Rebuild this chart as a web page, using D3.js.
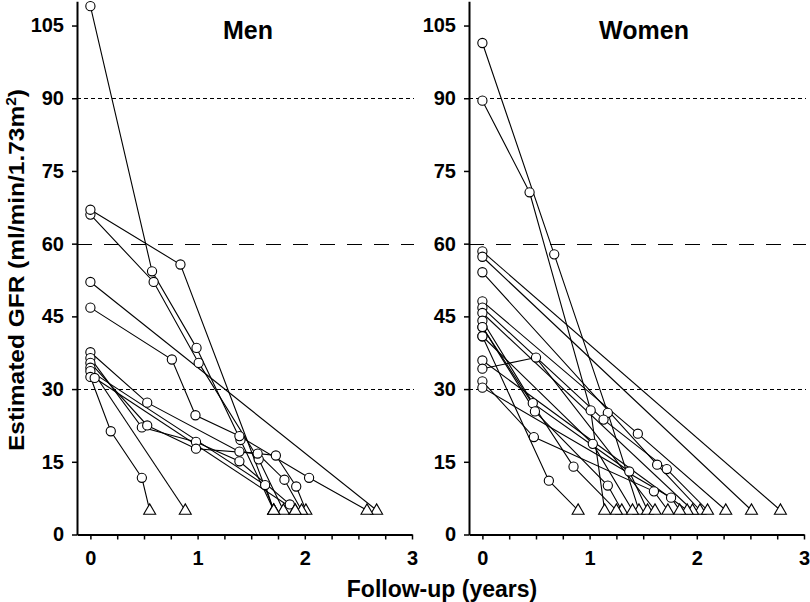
<!DOCTYPE html>
<html>

<head>
  <meta http-equiv="content-type" content="text/html; charset=utf-8">
  <title>Estimated GFR follow-up</title>
  <style>
    body { margin: 0; background: #fff; }
    svg#canvas { display: block; }
    text { font-family: "Liberation Sans", Arial, sans-serif; font-weight: bold; fill: #000; }
  </style>
</head>

<body>
  <svg id="canvas"></svg>

  <script src="https://d3js.org/d3.v7.min.js"></script>
  <script>

    // each subject: [years, eGFR] points; the last point is the end-point (triangle)
    const men = [
      [[0, 109], [0.575, 54.3], [0.99, 38.5], [1.40, 19.5], [1.71, 5]],
      [[0, 66], [0.59, 52.1], [1.01, 35.4], [1.57, 15.5], [1.80, 5]],
      [[0, 67], [0.84, 55.7], [1.71, 5]],
      [[0, 52.1], [2.67, 5]],
      [[0, 46.8], [0.76, 36.1], [0.98, 24.6], [1.39, 20.3], [2.04, 11.7], [2.58, 5]],
      [[0, 37.6], [0.53, 27.2], [1.39, 17.1], [1.73, 16.3], [1.92, 9.9], [2.01, 5]],
      [[0, 36.4], [0.48, 22.1], [0.985, 19.1], [1.39, 15.1], [1.86, 6.2], [1.91, 5]],
      [[0, 35.4], [0.53, 22.5], [0.985, 17.7], [1.56, 16.7], [1.81, 11.3], [1.97, 5]],
      [[0, 34.4], [0.885, 5]],
      [[0, 33.7], [1.63, 10.2], [1.71, 5]],
      [[0, 32.5], [0.19, 21.3], [0.48, 11.7], [0.553, 5]],
      [[0.04, 32.3], [1.91, 5]]
    ];

    const women = [
      [[0, 101.4], [0.67, 57.8], [1.17, 25.1], [1.46, 5]],
      [[0, 89.5], [0.44, 70.6], [1.01, 25.6], [1.14, 5]],
      [[0, 58.4], [2.78, 5]],
      [[0, 57.3], [2.51, 5]],
      [[0, 54.1], [1.63, 14.4], [2.03, 5]],
      [[0, 48.1], [1.45, 20.8], [2.27, 5]],
      [[0, 46.8], [1.13, 23.7], [1.72, 13.5], [2.10, 5]],
      [[0, 45.7], [1.96, 5]],
      [[0, 44.1], [0.47, 27.1], [1.37, 13.0], [1.54, 5]],
      [[0, 42.8], [0.49, 25.4], [1.17, 10.1], [1.30, 5]],
      [[0, 42.8], [0.85, 14.0], [1.25, 5]],
      [[0, 40.9], [0.62, 11.1], [0.893, 5]],
      [[0, 40.9], [1.03, 18.7], [1.40, 5]],
      [[0, 35.9], [1.91, 5]],
      [[0, 34.2], [0.50, 36.5], [1.61, 5]],
      [[0, 31.6], [0.48, 20.1], [1.60, 8.9], [1.73, 5]],
      [[0, 30.3], [1.76, 7.6], [1.84, 5]]
    ];

    const yTicks = [0, 15, 30, 45, 60, 75, 90, 105];
    const xTicks = [0, 1, 2, 3];
    const xMinorTicks = d3.range(0, 3.001, 0.25);
    const refLines = [{ "v": 90, "dash": "4,3" }, { "v": 60, "dash": "15,12" }, { "v": 30, "dash": "4,3" }];

    const svg = d3.select("svg#canvas").attr("width", 810).attr("height", 602);

    const y = d3.scaleLinear().domain([0, 110]).range([534.5, 1.3]);
    const tri = d3.symbol().type(d3.symbolTriangle).size(62);

    const panel = (subjects, title, left, right, titleX) => {
      const x = d3.scaleLinear().domain([-0.125, 3]).range([left, right]);
      const g = svg.append("g");

      refLines.forEach(r => {
        g.append("line")
          .attr("x1", left).attr("x2", right + 2)
          .attr("y1", Math.round(y(r.v)) + 0.5).attr("y2", Math.round(y(r.v)) + 0.5)
          .attr("stroke", "#000").attr("stroke-width", 1)
          .attr("stroke-dasharray", r.dash);
      });

      const line = d3.line().x(d => x(d[0])).y(d => y(d[1]));
      g.selectAll(".subj")
        .data(subjects)
        .enter().append("path")
        .attr("d", line)
        .attr("fill", "none")
        .attr("stroke", "#000")
        .attr("stroke-width", 1.1);

      subjects.forEach(s => {
        s.slice(0, -1).forEach(p => {
          g.append("circle")
            .attr("cx", x(p[0])).attr("cy", y(p[1])).attr("r", 4.6)
            .attr("fill", "#fff").attr("stroke", "#000").attr("stroke-width", 1.1);
        });
        const e = s[s.length - 1];
        g.append("path")
          .attr("d", tri)
          .attr("transform", "translate(" + x(e[0]) + "," + (y(e[1]) + 0.5) + ")")
          .attr("fill", "#fff").attr("stroke", "#000").attr("stroke-width", 1.1);
      });

      // axes
      const yAxis = g.append("g")
        .attr("transform", "translate(" + left + ",0)")
        .call(d3.axisLeft(y).tickValues(yTicks).tickSize(5).tickPadding(8).tickSizeOuter(0));
      const xAxis = g.append("g")
        .attr("transform", "translate(0," + y(0) + ")")
        .call(d3.axisBottom(x).tickValues(xMinorTicks).tickSize(5).tickPadding(11).tickSizeOuter(0)
          .tickFormat(d => xTicks.includes(d) ? d : ""));
      [yAxis, xAxis].forEach(a => {
        a.select(".domain").attr("stroke-width", 2);
        a.selectAll(".tick line").attr("stroke-width", 1.5);
        a.selectAll("text").style("font-size", "20px").style("font-weight", "bold")
          .style("font-family", "'Liberation Sans', Arial, sans-serif");
      });

      g.append("text")
        .attr("x", titleX).attr("y", 39)
        .attr("text-anchor", "middle")
        .style("font-size", "25px")
        .text(title);
    };

    panel(men, "Men", 77, 412, 248);
    panel(women, "Women", 469, 804, 644);

    const yLab = svg.append("text")
      .attr("transform", "translate(24,270) rotate(-90)")
      .attr("text-anchor", "middle")
      .attr("textLength", 362)
      .attr("lengthAdjust", "spacingAndGlyphs")
      .style("font-size", "22px")
      .text("Estimated GFR (ml/min/1.73m");
    yLab.append("tspan").attr("baseline-shift", "super").style("font-size", "14px").text("2");
    yLab.append("tspan").text(")");

    svg.append("text")
      .attr("x", 442).attr("y", 597)
      .attr("text-anchor", "middle")
      .style("font-size", "23px")
      .text("Follow-up (years)");

  </script>
</body>

</html>
